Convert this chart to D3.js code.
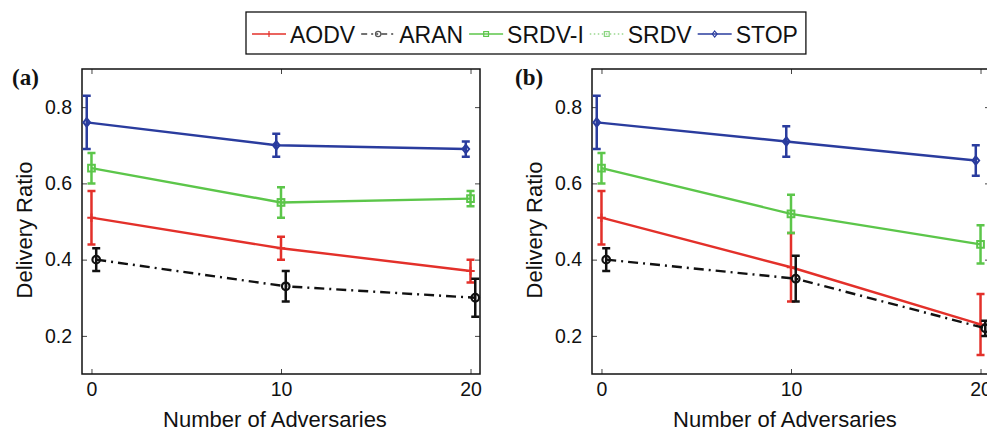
<!DOCTYPE html>
<html>
<head>
<meta charset="utf-8">
<script src="https://cdn.jsdelivr.net/npm/d3@7"></script>
<style>
  body { margin: 0; background: #fff; }
  svg { display: block; font-family: "Liberation Sans", Arial, Helvetica, sans-serif; }
</style>
</head>
<body>
<script>
// number of adversaries on the x axis
var adversaries = [0, 10, 20];
var yTicks = [0.2, 0.4, 0.6, 0.8];
var seriesNames = ["AODV", "ARAN", "SRDV-I", "SRDV", "STOP"];

// panel (a): mean delivery ratio and error half-width
var aodvA = [0.51, 0.43, 0.37];
var aodvErrA = [0.07, 0.03, 0.03];
var aranA = [0.40, 0.33, 0.30];
var aranErrA = [0.03, 0.04, 0.05];
var srdviA = [0.64, 0.55, 0.56];
var srdviErrA = [0.04, 0.04, 0.02];
var stopA = [0.76, 0.70, 0.69];
var stopErrA = [0.07, 0.03, 0.02];

// panel (b)
var aodvB = [0.51, 0.38, 0.23];
var aodvErrB = [0.07, 0.09, 0.08];
var aranB = [0.40, 0.35, 0.22];
var aranErrB = [0.03, 0.06, 0.02];
var srdviB = [0.64, 0.52, 0.44];
var srdviErrB = [0.04, 0.05, 0.05];
var stopB = [0.76, 0.71, 0.66];
var stopErrB = [0.07, 0.04, 0.04];

// small horizontal dodge applied to some series
var xShift = { "AODV": 0, "ARAN": 0.25, "SRDV-I": 0, "SRDV": 0, "STOP": -0.25 };

var colors = {
  "AODV": "#e3302a",
  "ARAN": "#111111",
  "SRDV-I": "#5cc64a",
  "SRDV": "#5cc64a",
  "STOP": "#2a3c9e"
};

var width = 987, height = 432;
var svg = d3.select("body").append("svg").attr("width", width).attr("height", height);
svg.append("rect").attr("width", width).attr("height", height).attr("fill", "#fff");

var panels = [
  { tag: "(a)", left: 82, tagX: 12, series: [
    { name: "AODV", v: aodvA, e: aodvErrA },
    { name: "ARAN", v: aranA, e: aranErrA },
    { name: "SRDV-I", v: srdviA, e: srdviErrA },
    { name: "STOP", v: stopA, e: stopErrA }
  ]},
  { tag: "(b)", left: 592, tagX: 515, series: [
    { name: "AODV", v: aodvB, e: aodvErrB },
    { name: "ARAN", v: aranB, e: aranErrB },
    { name: "SRDV-I", v: srdviB, e: srdviErrB },
    { name: "STOP", v: stopB, e: stopErrB }
  ]}
];

var plotTop = 69, plotBottom = 374, plotW = 398;

function marker(g, name, cx, cy, s) {
  var c = colors[name];
  if (name == "AODV") {
    g.append("path").attr("d", "M" + (cx - s) + "," + cy + "H" + (cx + s) + "M" + cx + "," + (cy - s) + "V" + (cy + s))
      .attr("stroke", c).attr("stroke-width", 2).attr("fill", "none");
  } else if (name == "ARAN") {
    g.append("circle").attr("cx", cx).attr("cy", cy).attr("r", s * 0.9)
      .attr("stroke", c).attr("stroke-width", 2.2).attr("fill", "none");
  } else if (name == "SRDV-I" || name == "SRDV") {
    g.append("rect").attr("x", cx - s * 0.8).attr("y", cy - s * 0.8).attr("width", s * 1.6).attr("height", s * 1.6)
      .attr("stroke", c).attr("stroke-width", 2).attr("fill", "none");
  } else {
    g.append("path").attr("d", "M" + cx + "," + (cy - s) + "L" + (cx + s * 0.8) + "," + cy + "L" + cx + "," + (cy + s) + "L" + (cx - s * 0.8) + "," + cy + "Z")
      .attr("stroke", c).attr("stroke-width", 2).attr("fill", "none");
  }
}

panels.forEach(function (p) {
  var x = d3.scaleLinear().domain([-0.5, 20.5]).range([p.left, p.left + plotW]);
  var y = d3.scaleLinear().domain([0.1, 0.9]).range([plotBottom, plotTop]);
  var g = svg.append("g");

  // axes with inward ticks (box style)
  g.append("g").attr("transform", "translate(0," + plotBottom + ")")
    .call(d3.axisBottom(x).tickValues(adversaries).tickSize(-5).tickPadding(8).tickFormat(d3.format("d")));
  g.append("g").attr("transform", "translate(0," + plotTop + ")")
    .call(d3.axisTop(x).tickValues(adversaries).tickSize(-5).tickFormat(""));
  g.append("g").attr("transform", "translate(" + p.left + ",0)")
    .call(d3.axisLeft(y).tickValues(yTicks).tickSize(-5).tickPadding(10).tickFormat(d3.format(".1f")));
  g.append("g").attr("transform", "translate(" + (p.left + plotW) + ",0)")
    .call(d3.axisRight(y).tickValues(yTicks).tickSize(-5).tickFormat(""));
  g.selectAll(".domain").remove();
  g.selectAll(".tick line").attr("stroke", "#444").attr("stroke-width", 1);
  g.selectAll(".tick text").style("font-size", "19.5px").attr("fill", "#111")
    .attr("font-family", "'Liberation Sans', Arial, sans-serif");
  g.append("rect").attr("x", p.left).attr("y", plotTop).attr("width", plotW).attr("height", plotBottom - plotTop)
    .attr("fill", "none").attr("stroke", "#111").attr("stroke-width", 1.5);

  // series
  p.series.forEach(function (s) {
    var c = colors[s.name];
    var pts = adversaries.map(function (a, i) {
      return { x: a + xShift[s.name], v: s.v[i], e: s.e[i] };
    });
    var line = d3.line().x(function (d) { return x(d.x); }).y(function (d) { return y(d.v); });
    g.append("path").datum(pts).attr("d", line).attr("fill", "none")
      .attr("stroke", c).attr("stroke-width", 2.4)
      .attr("stroke-dasharray", s.name == "ARAN" ? "10,5,2,5" : null);
    pts.forEach(function (d) {
      var px = x(d.x);
      g.append("path")
        .attr("d", "M" + px + "," + y(d.v - d.e) + "V" + y(d.v + d.e) +
          "M" + (px - 4) + "," + y(d.v - d.e) + "H" + (px + 4) +
          "M" + (px - 4) + "," + y(d.v + d.e) + "H" + (px + 4))
        .attr("stroke", c).attr("stroke-width", 2.5).attr("fill", "none");
      marker(g, s.name, px, y(d.v), 4.2);
    });
  });

  // labels
  svg.append("text").attr("x", p.tagX).attr("y", 85).text(p.tag)
    .attr("font-family", "'Liberation Serif', 'Times New Roman', serif")
    .attr("font-weight", "bold").attr("font-size", 23).attr("fill", "#111");
  svg.append("text").attr("x", (p.left + p.left + plotW) / 2 - 6).attr("y", 427)
    .attr("text-anchor", "middle").attr("font-size", 22).attr("fill", "#111")
    .text("Number of Adversaries");
  svg.append("text")
    .attr("transform", "translate(" + (p.left - 50) + "," + 230 + ") rotate(-90)")
    .attr("text-anchor", "middle").attr("font-size", 22).attr("fill", "#111")
    .text("Delivery Ratio");
});

// legend
var legend = svg.append("g");
var lx = 252, ly = 34;
seriesNames.forEach(function (name) {
  var c = colors[name];
  var sample = legend.append("line").attr("x1", lx).attr("x2", lx + 34).attr("y1", ly).attr("y2", ly)
    .attr("stroke", name == "ARAN" ? "#444" : c).attr("stroke-width", 1.5);
  if (name == "ARAN") sample.attr("stroke-dasharray", "6,4,2,3,2,3");
  if (name == "SRDV") sample.attr("stroke-dasharray", "1.5,2.5").attr("stroke", "#9ad890");
  var mg = legend.append("g");
  if (name == "AODV") {
    mg.append("line").attr("x1", lx + 17).attr("x2", lx + 17).attr("y1", ly - 3).attr("y2", ly + 3)
      .attr("stroke", c).attr("stroke-width", 1.2);
  } else {
    marker(mg, name, lx + 17, ly, 3);
    mg.selectAll("*").attr("stroke-width", 1.2);
    if (name == "ARAN") mg.selectAll("*").attr("stroke", "#555");
    if (name == "SRDV") mg.selectAll("*").attr("stroke", "#8ad480");
  }
  var t = legend.append("text").attr("x", lx + 38).attr("y", ly + 8.5)
    .attr("font-size", 23).attr("fill", "#111").text(name);
  lx = lx + 38 + t.node().getComputedTextLength() + 6;
});
legend.insert("rect", ":first-child").attr("x", 246).attr("y", 12).attr("width", lx - 246 + 2).attr("height", 42)
  .attr("fill", "#fff").attr("stroke", "#111").attr("stroke-width", 1.3);
</script>
</body>
</html>
